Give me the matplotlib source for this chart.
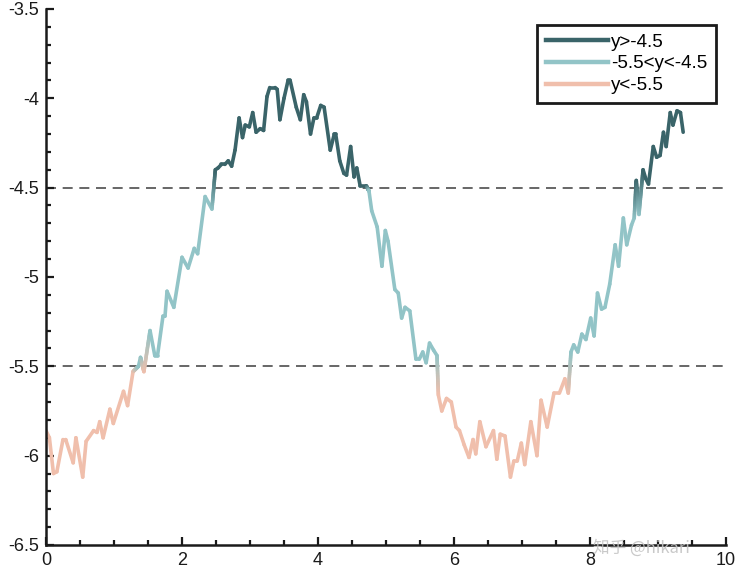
import numpy as np
import matplotlib
matplotlib.use('Agg')
import matplotlib.pyplot as plt
from matplotlib.collections import LineCollection
from matplotlib.lines import Line2D
from matplotlib.colors import to_rgb

plt.rcParams['font.family'] = ['Liberation Sans', 'DejaVu Sans']

# curve
x = [0.00, 0.05, 0.11, 0.16, 0.25, 0.29, 0.40, 0.44, 0.54, 0.59,
     0.70, 0.75, 0.79, 0.84, 0.94, 0.99, 1.14, 1.20, 1.28, 1.36,
     1.39, 1.44, 1.53, 1.60, 1.64, 1.72, 1.75, 1.78, 1.88, 2.00,
     2.09, 2.18, 2.23, 2.34, 2.44, 2.49, 2.53, 2.58, 2.63, 2.68,
     2.73, 2.78, 2.84, 2.89, 2.93, 2.99, 3.04, 3.09, 3.15, 3.20,
     3.25, 3.29, 3.37, 3.40, 3.44, 3.50, 3.56, 3.59, 3.68, 3.74,
     3.79, 3.83, 3.89, 3.94, 3.98, 4.04, 4.09, 4.18, 4.24, 4.26,
     4.32, 4.38, 4.42, 4.48, 4.53, 4.57, 4.62, 4.71, 4.75, 4.79,
     4.87, 4.94, 4.99, 5.03, 5.13, 5.18, 5.23, 5.28, 5.35, 5.44,
     5.49, 5.54, 5.59, 5.64, 5.70, 5.75, 5.77, 5.82, 5.89, 5.96,
     6.03, 6.08, 6.15, 6.22, 6.28, 6.32, 6.38, 6.47, 6.58, 6.63,
     6.68, 6.75, 6.83, 6.88, 6.93, 6.99, 7.04, 7.13, 7.22, 7.28,
     7.37, 7.47, 7.55, 7.63, 7.68, 7.72, 7.76, 7.82, 7.88, 7.94,
     8.01, 8.06, 8.11, 8.17, 8.22, 8.29, 8.37, 8.42, 8.49, 8.54,
     8.61, 8.65, 8.68, 8.72, 8.78, 8.82, 8.86, 8.93, 8.98, 9.03,
     9.08, 9.12, 9.18, 9.22, 9.28, 9.33, 9.37]
y = [-5.86, -5.90, -6.10, -6.09, -5.91, -5.91, -6.04, -5.90, -6.12, -5.92,
     -5.86, -5.87, -5.81, -5.90, -5.74, -5.82, -5.64, -5.72, -5.53, -5.50,
     -5.45, -5.53, -5.30, -5.44, -5.44, -5.22, -5.22, -5.08, -5.17, -4.89,
     -4.95, -4.84, -4.87, -4.55, -4.62, -4.40, -4.39, -4.37, -4.37, -4.35,
     -4.38, -4.29, -4.11, -4.22, -4.15, -4.16, -4.08, -4.19, -4.17, -4.18,
     -3.99, -3.94, -3.94, -3.95, -4.12, -4.00, -3.90, -3.90, -4.05, -4.12,
     -3.98, -4.02, -4.20, -4.11, -4.11, -4.04, -4.05, -4.29, -4.20, -4.20,
     -4.35, -4.42, -4.43, -4.27, -4.44, -4.39, -4.49, -4.49, -4.52, -4.63,
     -4.72, -4.94, -4.74, -4.80, -5.07, -5.09, -5.23, -5.17, -5.19, -5.46,
     -5.46, -5.42, -5.48, -5.37, -5.41, -5.44, -5.66, -5.75, -5.68, -5.70,
     -5.84, -5.86, -5.94, -6.01, -5.91, -5.99, -5.81, -5.95, -5.86, -6.02,
     -5.88, -5.89, -6.12, -6.03, -6.03, -5.93, -6.05, -5.81, -6.00, -5.69,
     -5.84, -5.65, -5.65, -5.57, -5.65, -5.42, -5.38, -5.42, -5.32, -5.35,
     -5.23, -5.33, -5.09, -5.18, -5.17, -5.04, -4.82, -4.94, -4.67, -4.82,
     -4.71, -4.67, -4.46, -4.65, -4.40, -4.45, -4.48, -4.27, -4.33, -4.32,
     -4.19, -4.27, -4.08, -4.15, -4.07, -4.08, -4.19]

upper = -4.5
lower = -5.5
legend_labels = ['y>-4.5', '-5.5<y<-4.5', 'y<-5.5']
xticks = [0, 2, 4, 6, 8, 10]
yticks = [-6.5, -6, -5.5, -5, -4.5, -4, -3.5]
ytick_labels = ['-6.5', '-6', '-5.5', '-5', '-4.5', '-4', '-3.5']
watermark = '知乎 @hikari'

c_high = to_rgb('#3a6469')
c_mid = to_rgb('#92c4c7')
c_low = to_rgb('#f0bfac')


def region_color(v):
    if v > upper:
        return np.array(c_high)
    if v < lower:
        return np.array(c_low)
    return np.array(c_mid)


def colored_segments(xs, ys, nsub=24):
    """Split the line in pieces, blend the colour where it crosses a level."""
    segs, cols = [], []
    for i in range(len(xs) - 1):
        ca, cb = region_color(ys[i]), region_color(ys[i + 1])
        if np.allclose(ca, cb):
            segs.append([(xs[i], ys[i]), (xs[i + 1], ys[i + 1])])
            cols.append(ca)
            continue
        t = np.linspace(0, 1, nsub + 1)
        px = xs[i] + (xs[i + 1] - xs[i]) * t
        py = ys[i] + (ys[i + 1] - ys[i]) * t
        for k in range(nsub):
            segs.append([(px[k], py[k]), (px[k + 1], py[k + 1])])
            tm = (t[k] + t[k + 1]) / 2
            cols.append(ca * (1 - tm) + cb * tm)
    return segs, cols


fig = plt.figure(figsize=(7.37, 5.77), dpi=100)
ax = fig.add_axes([0.0624, 0.0555, 0.9227, 0.929])

ax.axhline(upper, color='#4d4d4d', lw=1.2, ls=(0, (6, 4)), zorder=1)
ax.axhline(lower, color='#4d4d4d', lw=1.2, ls=(0, (6, 4)), zorder=1)

segs, cols = colored_segments(x, y)
lc = LineCollection(segs, colors=cols, linewidths=2.6, capstyle='round',
                    joinstyle='round', zorder=2)
ax.add_collection(lc)

ax.set_xlim(0, 10)
ax.set_ylim(-6.5, -3.5)
ax.set_xticks(xticks)
ax.set_xticklabels([str(v) for v in xticks])
ax.set_yticks(yticks)
ax.set_yticklabels(ytick_labels)
ax.set_xticks(np.arange(0, 10.01, 0.5), minor=True)
ax.set_yticks(np.arange(-6.5, -3.49, 0.1), minor=True)
ax.tick_params(which='both', direction='in', width=1.6, labelsize=13,
               colors='#1a1a1a')
ax.tick_params(which='major', length=6, pad=5)
ax.tick_params(which='minor', length=3.5)
for side in ['top', 'right']:
    ax.spines[side].set_visible(False)
for side in ['left', 'bottom']:
    ax.spines[side].set_linewidth(1.8)
    ax.spines[side].set_color('#1a1a1a')

handles = [Line2D([], [], color=c, lw=3.2) for c in (c_high, c_mid, c_low)]
leg = ax.legend(handles, legend_labels, loc='upper right',
                bbox_to_anchor=(0.9715, 0.9567), bbox_transform=fig.transFigure,
                borderaxespad=0, fancybox=False, framealpha=1, fontsize=13.5,
                handlelength=3.3, handletextpad=0.2, labelspacing=0.25,
                borderpad=0.45)
leg.get_frame().set_edgecolor('#1a1a1a')
leg.get_frame().set_linewidth(2)

fig.text(0.805, 0.051, watermark, fontsize=12, color='#c4c4c4', alpha=0.9,
         family=['Noto Sans CJK SC', 'DejaVu Sans'], va='center', ha='left')

fig.savefig('out.png', dpi=100)
